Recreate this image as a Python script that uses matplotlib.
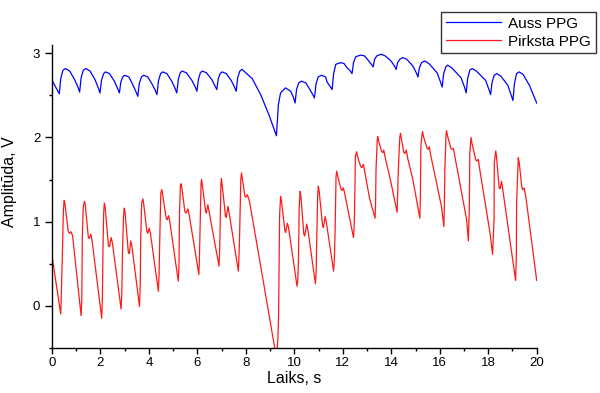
import matplotlib
matplotlib.use("Agg")
import matplotlib.pyplot as plt
from matplotlib.ticker import MultipleLocator

plt.rcParams['font.family'] = ['Liberation Sans', 'DejaVu Sans']

# Auss PPG (blue) -- time [s], amplitude [V]
blue_t = [0.00, 0.15, 0.30, 0.36, 0.45, 0.56, 0.73, 0.93, 1.07,
          1.14, 1.20, 1.29, 1.40, 1.57, 1.77, 1.91,
          1.98, 2.04, 2.13, 2.20, 2.37, 2.57, 2.71,
          2.78, 2.84, 2.92, 3.00, 3.17, 3.33, 3.47,
          3.54, 3.60, 3.69, 3.78, 3.95, 4.12, 4.26,
          4.33, 4.39, 4.48, 4.57, 4.74, 4.94, 5.08,
          5.15, 5.21, 5.29, 5.37, 5.54, 5.77, 5.91,
          5.98, 6.04, 6.12, 6.20, 6.37, 6.59, 6.73,
          6.80, 6.86, 6.94, 7.02, 7.19, 7.39, 7.53,
          7.60, 7.66, 7.75, 7.84, 8.26, 8.61, 8.95,
          9.26, 9.34, 9.43, 9.63, 9.85, 9.97,
          10.03, 10.09, 10.18, 10.30, 10.47, 10.62, 10.76,
          10.83, 10.89, 10.98, 11.12, 11.29, 11.35, 11.49,
          11.56, 11.62, 11.71, 11.90, 12.05, 12.17, 12.31,
          12.38, 12.44, 12.53, 12.73, 12.90, 13.04, 13.18,
          13.25, 13.31, 13.40, 13.58, 13.75, 13.99, 14.13,
          14.20, 14.26, 14.35, 14.47, 14.64, 14.89, 15.03,
          15.10, 15.16, 15.25, 15.38, 15.55, 15.89, 16.03,
          16.10, 16.16, 16.25, 16.32, 16.49, 16.88, 17.02,
          17.09, 17.15, 17.24, 17.34, 17.51, 17.89, 18.03,
          18.10, 18.16, 18.25, 18.35, 18.52, 18.81, 18.95,
          19.02, 19.08, 19.17, 19.27, 19.44, 19.70, 20.00]
blue_v = [2.68, 2.60, 2.52, 2.70, 2.80, 2.82, 2.79, 2.69, 2.60,
          2.54, 2.71, 2.80, 2.82, 2.79, 2.69, 2.59,
          2.53, 2.68, 2.76, 2.78, 2.76, 2.67, 2.58,
          2.53, 2.66, 2.72, 2.74, 2.72, 2.63, 2.54,
          2.49, 2.64, 2.72, 2.74, 2.72, 2.64, 2.56,
          2.51, 2.67, 2.76, 2.78, 2.76, 2.67, 2.58,
          2.53, 2.69, 2.77, 2.79, 2.77, 2.68, 2.60,
          2.55, 2.69, 2.77, 2.79, 2.77, 2.69, 2.61,
          2.57, 2.70, 2.76, 2.78, 2.76, 2.68, 2.60,
          2.55, 2.71, 2.79, 2.81, 2.70, 2.51, 2.27,
          2.02, 2.39, 2.53, 2.59, 2.55, 2.47,
          2.41, 2.57, 2.65, 2.67, 2.65, 2.58, 2.51,
          2.47, 2.63, 2.72, 2.74, 2.72, 2.66, 2.60,
          2.57, 2.76, 2.87, 2.89, 2.88, 2.83, 2.79,
          2.76, 2.89, 2.96, 2.98, 2.97, 2.92, 2.87,
          2.84, 2.93, 2.97, 2.99, 2.97, 2.91, 2.85,
          2.81, 2.89, 2.93, 2.95, 2.93, 2.85, 2.77,
          2.72, 2.83, 2.89, 2.91, 2.88, 2.77, 2.66,
          2.60, 2.76, 2.84, 2.86, 2.83, 2.71, 2.60,
          2.53, 2.70, 2.80, 2.82, 2.79, 2.68, 2.57,
          2.51, 2.66, 2.74, 2.76, 2.73, 2.62, 2.50,
          2.44, 2.64, 2.76, 2.78, 2.75, 2.62, 2.41]

# Pirksta PPG (red)
red_t = [0.00, 0.02, 0.36,
         0.42, 0.47, 0.50, 0.53, 0.67, 0.72, 0.78, 0.85, 1.20,
         1.23, 1.25, 1.29, 1.34, 1.37, 1.50, 1.54, 1.60, 1.65, 2.05,
         2.08, 2.10, 2.13, 2.16, 2.19, 2.33, 2.37, 2.44, 2.49, 2.85,
         2.88, 2.91, 2.95, 2.98, 3.01, 3.15, 3.19, 3.25, 3.30, 3.61,
         3.64, 3.66, 3.70, 3.75, 3.78, 3.91, 3.95, 4.01, 4.06, 4.39,
         4.42, 4.44, 4.49, 4.53, 4.56, 4.71, 4.75, 4.81, 4.86, 5.21,
         5.24, 5.26, 5.30, 5.33, 5.36, 5.48, 5.53, 5.61, 5.66, 6.06,
         6.08, 6.10, 6.15, 6.17, 6.20, 6.34, 6.37, 6.43, 6.48, 6.89,
         6.91, 6.93, 6.97, 6.99, 7.02, 7.16, 7.19, 7.26, 7.31, 7.69,
         7.71, 7.74, 7.79, 7.82, 7.85, 7.96, 8.00, 8.06, 8.15, 9.26,
         9.32, 9.35, 9.39, 9.43, 9.46, 9.61, 9.64, 9.71, 9.76, 10.11,
         10.14, 10.17, 10.20, 10.24, 10.27, 10.39, 10.43, 10.51, 10.56, 10.87,
         10.90, 10.92, 10.96, 10.99, 11.02, 11.17, 11.20, 11.27, 11.32, 11.62,
         11.65, 11.68, 11.72, 11.75, 11.78, 11.93, 11.97, 12.02, 12.08, 12.44,
         12.46, 12.48, 12.52, 12.57, 12.60, 12.73, 12.78, 12.85, 12.90, 13.10, 13.33,
         13.35, 13.37, 13.42, 13.44, 13.48, 13.61, 13.65, 13.69, 13.75, 13.99, 14.24,
         14.26, 14.29, 14.35, 14.38, 14.42, 14.52, 14.56, 14.62, 14.68, 14.89, 15.18,
         15.20, 15.22, 15.27, 15.29, 15.33, 15.48, 15.52, 15.57, 15.62, 16.07, 16.17,
         16.19, 16.21, 16.26, 16.28, 16.32, 16.46, 16.50, 16.56, 16.62, 17.11, 17.18,
         17.22, 17.24, 17.29, 17.33, 17.48, 17.52, 17.59, 17.65, 18.07, 18.18,
         18.24, 18.25, 18.31, 18.34, 18.45, 18.49, 18.55, 18.60, 19.13,
         19.16, 19.17, 19.24, 19.28, 19.38, 19.42, 19.48, 19.55, 20.00]
red_v = [0.69, 0.55, -0.10,
         0.52, 1.14, 1.25, 1.22, 0.88, 0.86, 0.88, 0.83, -0.12,
         0.10, 0.81, 1.18, 1.24, 1.20, 0.81, 0.80, 0.85, 0.78, -0.15,
         0.10, 0.63, 1.10, 1.22, 1.18, 0.71, 0.70, 0.81, 0.75, -0.04,
         0.15, 0.67, 1.06, 1.16, 1.12, 0.63, 0.62, 0.77, 0.70, -0.01,
         0.25, 0.79, 1.22, 1.27, 1.22, 0.89, 0.86, 0.92, 0.86, 0.17,
         0.40, 0.71, 1.34, 1.38, 1.33, 1.04, 1.02, 1.07, 1.00, 0.29,
         0.50, 1.10, 1.44, 1.45, 1.40, 1.12, 1.10, 1.15, 1.08, 0.37,
         0.55, 0.79, 1.46, 1.50, 1.44, 1.12, 1.10, 1.20, 1.12, 0.47,
         0.60, 0.83, 1.45, 1.51, 1.44, 1.06, 1.05, 1.18, 1.10, 0.41,
         0.55, 0.83, 1.50, 1.58, 1.52, 1.30, 1.29, 1.32, 1.24, -0.62,
         -0.40, -0.10, 1.06, 1.30, 1.26, 0.89, 0.87, 0.98, 0.93, 0.23,
         0.30, 0.55, 1.18, 1.36, 1.30, 0.85, 0.83, 0.97, 0.90, 0.26,
         0.40, 0.73, 1.30, 1.42, 1.37, 0.94, 0.93, 1.06, 0.99, 0.41,
         0.55, 0.87, 1.54, 1.60, 1.55, 1.38, 1.37, 1.40, 1.33, 0.81,
         0.90, 1.06, 1.78, 1.83, 1.78, 1.66, 1.64, 1.68, 1.60, 1.28, 1.04,
         1.20, 1.62, 1.97, 2.01, 1.95, 1.83, 1.82, 1.85, 1.76, 1.46, 1.11,
         1.30, 1.62, 2.00, 2.05, 1.98, 1.82, 1.81, 1.85, 1.75, 1.50, 1.04,
         1.30, 1.89, 2.04, 2.07, 2.01, 1.87, 1.86, 1.89, 1.80, 1.18, 0.94,
         1.20, 1.62, 2.04, 2.08, 2.02, 1.87, 1.86, 1.87, 1.78, 1.02, 0.77,
         1.18, 1.81, 2.00, 1.93, 1.74, 1.72, 1.74, 1.62, 0.87, 0.61,
         1.02, 1.70, 1.84, 1.78, 1.40, 1.39, 1.48, 1.38, 0.30,
         0.60, 1.22, 1.76, 1.70, 1.42, 1.38, 1.40, 1.30, 0.30]

series_labels = ["Auss PPG", "Pirksta PPG"]
x_ticks = [0, 2, 4, 6, 8, 10, 12, 14, 16, 18, 20]
y_ticks = [0, 1, 2, 3]

fig = plt.figure(figsize=(6.0, 3.93), dpi=100)
ax = fig.add_axes([0.0867, 0.1153, 0.8078, 0.7702])

ax.plot(blue_t, blue_v, color='#0000ff', lw=0.9, label=series_labels[0])
ax.plot(red_t, red_v, color='#ff1a1a', lw=0.9, label=series_labels[1])

ax.set_xlim(0, 20)
ax.set_ylim(-0.5, 3.1)
ax.set_xticks(x_ticks)
ax.set_yticks(y_ticks)
ax.xaxis.set_minor_locator(MultipleLocator(1))
ax.yaxis.set_minor_locator(MultipleLocator(0.5))

for s in ['top', 'right']:
    ax.spines[s].set_visible(False)
for s in ['left', 'bottom']:
    ax.spines[s].set_linewidth(1.0)
    ax.spines[s].set_color('black')

ax.tick_params(axis='x', which='major', direction='out', length=4, width=1.0,
               labelsize=9.5, pad=2.5)
ax.tick_params(axis='x', which='minor', direction='out', length=2.5, width=1.0)
ax.tick_params(axis='y', which='major', direction='out', length=5, width=1.0,
               labelsize=9.5, pad=3.5)
ax.tick_params(axis='y', which='minor', direction='out', length=2.5, width=1.0)

ax.set_xlabel("Laiks, s", fontsize=11.5, labelpad=2)
ax.set_ylabel("Amplitūda, V", fontsize=11.5)
ax.yaxis.set_label_coords(-0.072, 0.55)

leg = fig.legend(loc='upper right', bbox_to_anchor=(0.993, 0.969),
                 fontsize=11, frameon=True, fancybox=False, shadow=False,
                 handlelength=3.6, handletextpad=0.5, borderpad=0.3,
                 labelspacing=0.25, borderaxespad=0)
leg.get_frame().set_edgecolor('black')
leg.get_frame().set_linewidth(1.0)

fig.savefig("out.png", dpi=100, facecolor='white')
